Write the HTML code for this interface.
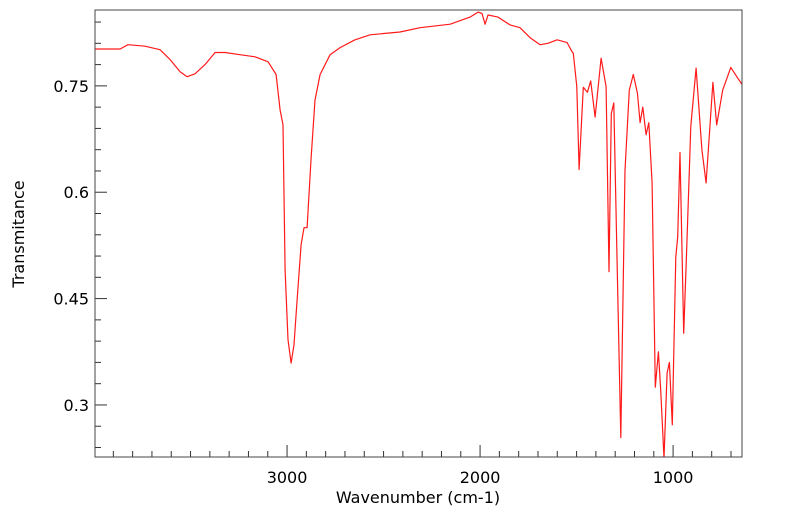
<!DOCTYPE html>
<html><head><meta charset="utf-8"><style>
html,body{margin:0;padding:0;background:#fff;}
svg{display:block;font-family:"DejaVu Sans","Liberation Sans",sans-serif;}
</style></head><body>
<svg id="chart" width="799" height="516" viewBox="0 0 799 516">
<g id="axes"></g>
<g id="series"></g>
<rect x="95" y="10" width="647" height="447" fill="none" stroke="#444" stroke-width="1"/>
<text x="418" y="503" text-anchor="middle" font-size="16">Wavenumber (cm-1)</text>
<text transform="translate(24,234) rotate(-90)" text-anchor="middle" font-size="16">Transmitance</text>
</svg>
<script>
const wavenumbers = [3995,3865,3824,3736,3658,3606,3554,3518,3477,3425,3373,3321,3244,3166,3098,3057,3036,3021,3010,2995,2979,2964,2948,2927,2912,2896,2876,2855,2829,2777,2725,2648,2570,2415,2311,2155,2052,2010,1990,1974,1959,1907,1845,1793,1741,1689,1648,1601,1549,1523,1517,1499,1487,1465,1444,1427,1404,1373,1347,1332,1320,1307,1292,1271,1249,1227,1206,1185,1171,1157,1140,1126,1109,1092,1076,1064,1047,1031,1019,1004,986,976,964,945,929,908,881,851,829,794,774,743,701,670,638];
const transmittance = [0.802,0.802,0.808,0.806,0.801,0.787,0.770,0.763,0.767,0.780,0.797,0.797,0.794,0.791,0.784,0.766,0.716,0.695,0.490,0.392,0.359,0.385,0.448,0.526,0.550,0.550,0.646,0.730,0.766,0.794,0.804,0.815,0.822,0.826,0.832,0.837,0.847,0.854,0.852,0.837,0.850,0.847,0.836,0.832,0.818,0.808,0.810,0.815,0.811,0.798,0.796,0.749,0.632,0.748,0.741,0.757,0.706,0.789,0.749,0.488,0.711,0.726,0.528,0.254,0.631,0.744,0.766,0.740,0.698,0.720,0.681,0.698,0.613,0.325,0.375,0.321,0.225,0.345,0.360,0.272,0.509,0.537,0.656,0.401,0.524,0.693,0.775,0.660,0.613,0.755,0.695,0.744,0.776,0.763,0.750];
const xMajorTicks = [3000,2000,1000];
const yMajorTicks = [0.3,0.45,0.6,0.75];

const X0=95,X1=742,Y0=10,Y1=457;
const wnMax=3995, wnMin=643;
const tMax=0.857, tMin=0.2266;
function xs(w){return X0+(wnMax-w)/(wnMax-wnMin)*(X1-X0);}
function ys(t){return Y0+(tMax-t)/(tMax-tMin)*(Y1-Y0);}
const NS="http://www.w3.org/2000/svg";
const axes=document.getElementById('axes');
function line(x1,y1,x2,y2,name){
  const l=document.createElementNS(NS,'line');
  l.setAttribute('x1',x1);l.setAttribute('y1',y1);l.setAttribute('x2',x2);l.setAttribute('y2',y2);
  l.setAttribute('stroke','#333');l.setAttribute('stroke-width','1');
  
  
  axes.appendChild(l);
}
function label(x,y,txt,anchor,name){
  const t=document.createElementNS(NS,'text');
  t.setAttribute('x',x);t.setAttribute('y',y);t.setAttribute('text-anchor',anchor);
  t.setAttribute('font-size','16');t.textContent=txt;
  
  
  axes.appendChild(t);
}
for(let w=3900;w>=wnMin;w-=100){
  const x=xs(w); if(x<X0||x>X1) continue;
  const major=xMajorTicks.includes(w);
  line(x,Y1,x,Y1-(major?12:6),major?'x-major-tick':'x-minor-tick');
}
xMajorTicks.forEach(w=>label(xs(w),483,String(w),'middle','x-tick-label'));
for(let k=0;k<30;k++){
  const t=+(0.24+k*0.03).toFixed(2);
  if(t<tMin||t>tMax) continue;
  const major=yMajorTicks.some(m=>Math.abs(m-t)<1e-6);
  line(X0,ys(t),X0+(major?12:6),ys(t),major?'y-major-tick':'y-minor-tick');
}
yMajorTicks.forEach(t=>label(89,ys(t)+6,String(t),'end','y-tick-label'));
const defs=document.createElementNS(NS,'clipPath');
defs.setAttribute('id','clip');
const cr=document.createElementNS(NS,'rect');
cr.setAttribute('x',X0);cr.setAttribute('y',Y0);cr.setAttribute('width',X1-X0);cr.setAttribute('height',Y1-Y0);
defs.appendChild(cr);
document.getElementById('chart').appendChild(defs);
const p=document.createElementNS(NS,'polyline');
p.setAttribute('points',wavenumbers.map((w,i)=>xs(w).toFixed(1)+','+ys(transmittance[i]).toFixed(1)).join(' '));
p.setAttribute('fill','none');p.setAttribute('stroke','#ff1a1a');p.setAttribute('stroke-width','1.2');
p.setAttribute('stroke-linejoin','round');p.setAttribute('clip-path','url(#clip)');


document.getElementById('series').appendChild(p);
</script>
</body></html>
